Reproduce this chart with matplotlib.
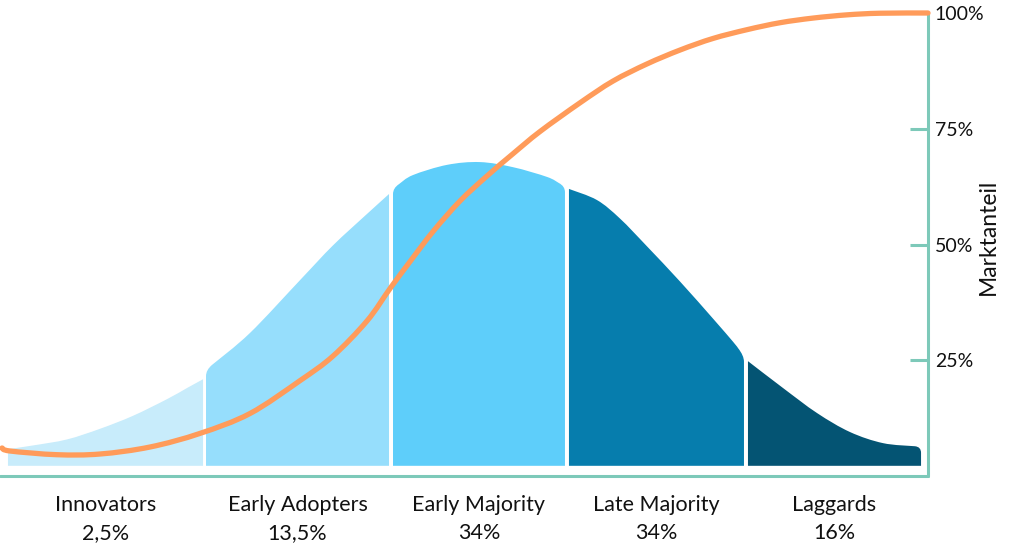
import numpy as np
import matplotlib
matplotlib.use("Agg")
import matplotlib.pyplot as plt
from matplotlib.path import Path
from matplotlib.patches import PathPatch

# ---------------- data ----------------
segments = ["Innovators", "Early Adopters", "Early Majority", "Late Majority", "Laggards"]
shares = ["2,5%", "13,5%", "34%", "34%", "16%"]

# top outline of each bell segment (x: time axis 0-100, y: height on the market-share scale)
innov_x = [0.86, 3.56, 7.22, 10.78, 14.33, 18.0, 20.15, 21.88]
innov_y = [5.8, 6.6, 7.9, 10.2, 13.0, 16.6, 19.0, 20.9]
early_ad_x = [22.2, 26.94, 32.33, 35.88, 39.55, 41.92]
early_ad_y = [22.9, 30.9, 42.3, 49.8, 56.6, 60.9]
early_maj_x = [42.35, 44.5, 48.17, 51.72, 55.28, 58.94, 60.88]
early_maj_y = [62.2, 65.0, 67.2, 67.8, 66.7, 64.6, 62.6]
late_maj_x = [61.31, 64.33, 66.81, 69.72, 73.28, 76.83, 78.99, 80.17]
late_maj_y = [62.0, 59.6, 55.6, 49.6, 42.0, 34.0, 29.0, 26.0]
lagg_x = [80.6, 84.38, 88.04, 91.59, 95.15, 99.25]
lagg_y = [24.8, 19.0, 13.6, 9.5, 7.1, 6.3]
bell_base = 2.2

# cumulative market share (orange curve)
curve_x = [0.22, 1.08, 6.14, 10.78, 16.16, 21.55, 26.94, 32.33, 35.88, 39.55, 42.03,
           44.18, 46.66, 49.57, 52.48, 55.28, 58.19, 62.5, 66.06, 69.72, 73.28, 76.83,
           80.5, 84.05, 87.6, 91.27, 94.83, 100.0]
curve_y = [6.05, 5.4, 4.6, 4.75, 6.26, 9.2, 13.5, 20.6, 25.9, 33.5, 40.5,
           46.3, 52.8, 59.4, 64.8, 69.6, 74.4, 80.6, 85.3, 89.0, 92.0, 94.5,
           96.4, 97.9, 98.9, 99.6, 99.95, 100.0]

y_ticks = [25, 50, 75, 100]
y_tick_labels = ["25%", "50%", "75%", "100%"]
y_label = "Marktanteil"

# ---------------- style ----------------
seg_colors = ["#C8ECFB", "#96DEFC", "#5ECEFA", "#067DAD", "#045473"]
seg_round = [(False, False), (True, False), (True, True), (False, True), (False, True)]
orange = "#FF9B5A"
teal = "#7DC9B9"
text_col = "#111111"
plt.rcParams["font.family"] = ["Lato", "DejaVu Sans"]


def bezier_pieces(pts):
    """Catmull-Rom through the given points, expressed as cubic Bezier path pieces."""
    pts = np.asarray(pts, dtype=float)
    n = len(pts)
    verts, codes = [], []
    for i in range(n - 1):
        p0 = pts[i - 1] if i > 0 else pts[i]
        p1 = pts[i]
        p2 = pts[i + 1]
        p3 = pts[i + 2] if i + 2 < n else pts[i + 1]
        c1 = p1 + (p2 - p0) / 6.0
        c2 = p2 - (p3 - p1) / 6.0
        verts += [tuple(c1), tuple(c2), tuple(p2)]
        codes += [Path.CURVE4] * 3
    return verts, codes


fig = plt.figure(figsize=(10.24, 5.6), dpi=100)
ax = fig.add_axes([0.0, 84 / 560, 928 / 1024, 463 / 560])
ax.set_xlim(0, 100)
ax.set_ylim(0, 100)

# corner radius in data units (~6 px)
rx, ry = 0.65, 1.3

seg_data = [(innov_x, innov_y), (early_ad_x, early_ad_y), (early_maj_x, early_maj_y),
            (late_maj_x, late_maj_y), (lagg_x, lagg_y)]
centers = []
for (xs, ys), col, (rl, rr) in zip(seg_data, seg_colors, seg_round):
    pts = [list(p) for p in zip(xs, ys)]
    verts = [(xs[0], bell_base)]
    codes = [Path.MOVETO]
    if rl:
        s = (ys[1] - ys[0]) / (xs[1] - xs[0])
        verts += [(xs[0], ys[0] - ry), (xs[0], ys[0])]
        codes += [Path.LINETO, Path.CURVE3]
        pts[0] = [xs[0] + rx, ys[0] + s * rx]
        verts += [tuple(pts[0])]
        codes += [Path.CURVE3]
    else:
        verts += [tuple(pts[0])]
        codes += [Path.LINETO]
    if rr:
        s = (ys[-1] - ys[-2]) / (xs[-1] - xs[-2])
        pts[-1] = [xs[-1] - rx, ys[-1] - s * rx]
    bv, bc = bezier_pieces(pts)
    verts += bv
    codes += bc
    if rr:
        verts += [(xs[-1], ys[-1]), (xs[-1], ys[-1] - ry)]
        codes += [Path.CURVE3, Path.CURVE3]
    verts += [(xs[-1], bell_base), (xs[0], bell_base)]
    codes += [Path.LINETO, Path.CLOSEPOLY]
    ax.add_patch(PathPatch(Path(verts, codes), facecolor=col, edgecolor="none", zorder=2))
    centers.append((xs[0] + xs[-1]) / 2)

cpts = list(zip(curve_x, curve_y))
cv, cc = bezier_pieces(cpts)
ax.add_patch(PathPatch(Path([cpts[0]] + cv, [Path.MOVETO] + cc), facecolor="none",
                       edgecolor=orange, lw=3.8, capstyle="round", joinstyle="round",
                       zorder=3, clip_on=False))

# spines
for s in ["left", "top"]:
    ax.spines[s].set_visible(False)
for s in ["bottom", "right"]:
    ax.spines[s].set_color(teal)
    ax.spines[s].set_linewidth(2.2)
    ax.spines[s].set_capstyle("round")

ax.yaxis.tick_right()
ax.set_yticks(y_ticks, y_tick_labels)
ax.tick_params(axis="y", direction="in", length=13, width=2.2, color=teal,
               labelsize=14, pad=5, labelcolor=text_col)
fig.text(988 / 1024, 1 - 237 / 560, y_label, rotation=90, ha="center", va="center",
         fontsize=16.5, color=text_col)

ax.set_xticks(centers, [f"{n}\n{s}" for n, s in zip(segments, shares)])
ax.tick_params(axis="x", length=0, pad=14, labelsize=15.5, labelcolor=text_col)
for lab in ax.get_xticklabels():
    lab.set_linespacing(1.5)

ax.set_facecolor("white")
fig.savefig("out.png", dpi=100, facecolor="white")
